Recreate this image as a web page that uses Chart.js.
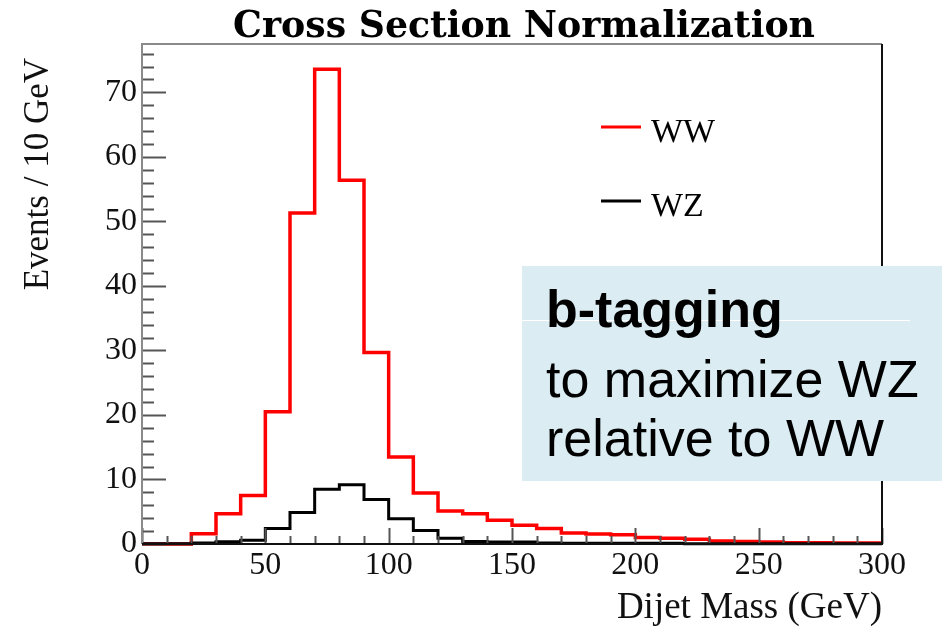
<!DOCTYPE html>
<html>
<head>
<meta charset="utf-8">
<script src="https://cdn.jsdelivr.net/npm/chart.js@4/dist/chart.umd.min.js"></script>
<style>
  html, body { margin: 0; padding: 0; background: #fff; }
  #wrap { width: 942px; height: 629px; position: relative; }
</style>
</head>
<body>
<div id="wrap"><canvas id="massChart" width="942" height="629"></canvas></div>
<script>
// Dijet mass histograms, 10 GeV bins from 0 to 300 GeV
const binEdges = [0, 10, 20, 30, 40, 50, 60, 70, 80, 90, 100, 110, 120, 130, 140, 150,
  160, 170, 180, 190, 200, 210, 220, 230, 240, 250, 260, 270, 280, 290, 300];
const wwCounts = [0, 0, 1.6, 4.7, 7.5, 20.5, 51.3, 73.6, 56.4, 29.7, 13.5, 7.9, 5.1, 4.7, 3.7,
  2.9, 2.4, 1.7, 1.55, 1.45, 1.0, 0.9, 0.75, 0.45, 0.4, 0.3, 0.2, 0.2, 0.15, 0.15];
const wzCounts = [0.05, 0.05, 0.15, 0.35, 0.6, 2.4, 4.9, 8.5, 9.2, 6.9, 3.9, 2.1, 0.9, 0.4, 0.3,
  0.3, 0.15, 0.1, 0.1, 0.1, 0.1, 0.1, 0.05, 0.05, 0.05, 0.05, 0.05, 0.05, 0.05, 0.05];
const xTicks = [0, 50, 100, 150, 200, 250, 300];
const yTicks = [0, 10, 20, 30, 40, 50, 60, 70];
const seriesNames = ['WW', 'WZ'];
const noteLines = ['b-tagging', 'to maximize WZ', 'relative to WW'];

const SERIF = '"Liberation Serif", "DejaVu Serif", serif';
const SANS = '"Liberation Sans", Arial, sans-serif';

// one point per bin edge, the last one repeats the final bin so the step closes at 300
function histPoints(counts) {
  return binEdges.map((x, i) => ({ x, y: counts[Math.min(i, counts.length - 1)] }));
}

// ROOT-style frame, inward ticks, titles, legend and the note box
const rootStyle = {
  id: 'rootStyle',
  afterDatasetsDraw(chart) {
    const { ctx, chartArea: a, scales: { x, y } } = chart;
    ctx.save();
    ctx.lineCap = 'butt';

    // y ticks: major every 10, minor every 2
    ctx.strokeStyle = '#555';
    ctx.lineWidth = 2;
    for (let v = 0; v <= y.max; v += 2) {
      const py = Math.round(y.getPixelForValue(v)) + 0.5;
      const len = v % 10 === 0 ? 24 : 12;
      ctx.beginPath(); ctx.moveTo(a.left, py); ctx.lineTo(a.left + len, py); ctx.stroke();
    }
    // x ticks: major every 50, minor every 10
    for (let v = 0; v <= 300; v += 10) {
      const px = Math.round(x.getPixelForValue(v)) + 0.5;
      const len = v % 50 === 0 ? 16 : 8;
      ctx.beginPath(); ctx.moveTo(px, a.bottom); ctx.lineTo(px, a.bottom - len); ctx.stroke();
    }

    // frame
    ctx.lineWidth = 2;
    ctx.strokeStyle = '#8a8a8a';
    ctx.beginPath(); ctx.moveTo(a.left, a.bottom); ctx.lineTo(a.left, a.top); ctx.lineTo(a.right, a.top); ctx.stroke();
    ctx.strokeStyle = '#111';
    ctx.beginPath(); ctx.moveTo(a.right, a.top); ctx.lineTo(a.right, a.bottom); ctx.lineTo(a.left, a.bottom); ctx.stroke();

    // legend
    const legend = [
      { label: seriesNames[0], color: '#ff0000', y: 127 },
      { label: seriesNames[1], color: '#000000', y: 201 }
    ];
    ctx.font = '34px ' + SERIF;
    ctx.textBaseline = 'alphabetic';
    ctx.textAlign = 'left';
    legend.forEach(item => {
      ctx.strokeStyle = item.color;
      ctx.lineWidth = 3;
      ctx.beginPath(); ctx.moveTo(601, item.y); ctx.lineTo(641, item.y); ctx.stroke();
      ctx.fillStyle = '#000';
      ctx.fillText(item.label, 651, item.y + 15);
    });

    // title, squeezed to its width
    ctx.font = 'bold 37px "DejaVu Serif Condensed", "DejaVu Serif", serif';
    const title = 'Cross Section Normalization';
    const tw = ctx.measureText(title).width;
    ctx.save();
    ctx.translate(233, 37);
    ctx.scale(582 / tw, 1);
    ctx.fillStyle = '#000';
    ctx.fillText(title, 0, 0);
    ctx.restore();

    // axis titles
    ctx.font = '37px ' + SERIF;
    ctx.fillStyle = '#111';
    ctx.textAlign = 'right';
    ctx.fillText('Dijet Mass (GeV)', 882, 618);
    ctx.font = '35px ' + SERIF;
    ctx.save();
    ctx.translate(48, 58);
    ctx.rotate(-Math.PI / 2);
    ctx.textAlign = 'right';
    ctx.fillText('Events / 10 GeV', 0, 0);
    ctx.restore();

    // note box
    ctx.fillStyle = '#dbedf3';
    ctx.fillRect(522, 266, 420, 215);
    ctx.strokeStyle = '#ffffff';
    ctx.lineWidth = 1;
    ctx.beginPath(); ctx.moveTo(522, 320.5); ctx.lineTo(910, 320.5); ctx.stroke();
    ctx.fillStyle = '#000';
    ctx.textAlign = 'left';
    ctx.font = 'bold 52px ' + SANS;
    ctx.fillText(noteLines[0], 546, 327);
    ctx.font = '52px ' + SANS;
    ctx.fillText(noteLines[1], 546, 397);
    ctx.fillText(noteLines[2], 546, 456);

    ctx.restore();
  }
};

new Chart(document.getElementById('massChart'), {
  type: 'line',
  data: {
    datasets: [
      {
        label: seriesNames[1],
        data: histPoints(wzCounts),
        borderColor: '#000000',
        borderWidth: 3,
        stepped: 'before',
        pointRadius: 0,
        fill: false,
        clip: false,
        order: 0
      },
      {
        label: seriesNames[0],
        data: histPoints(wwCounts),
        borderColor: '#ff0000',
        borderWidth: 3.5,
        stepped: 'before',
        pointRadius: 0,
        fill: false,
        clip: false,
        order: 1
      }
    ]
  },
  options: {
    responsive: false,
    animation: false,
    events: [],
    layout: { padding: { top: 44, right: 60, left: 0, bottom: 0 } },
    plugins: { legend: { display: false }, tooltip: { enabled: false }, title: { display: false } },
    scales: {
      x: {
        type: 'linear',
        min: 0,
        max: 300,
        afterFit: s => { s.height = 85; },
        afterBuildTicks: s => { s.ticks = xTicks.map(v => ({ value: v })); },
        grid: { display: false, drawTicks: false },
        border: { display: false },
        ticks: { color: '#111', padding: 2, maxRotation: 0, autoSkip: false, font: { family: SERIF, size: 32 } }
      },
      y: {
        type: 'linear',
        min: 0,
        max: 77.5,
        afterFit: s => { s.width = 142; },
        afterBuildTicks: s => { s.ticks = yTicks.map(v => ({ value: v })); },
        grid: { display: false, drawTicks: false },
        border: { display: false },
        ticks: { color: '#111', padding: 5, autoSkip: false, font: { family: SERIF, size: 32 } }
      }
    }
  },
  plugins: [rootStyle]
});
</script>
</body>
</html>
